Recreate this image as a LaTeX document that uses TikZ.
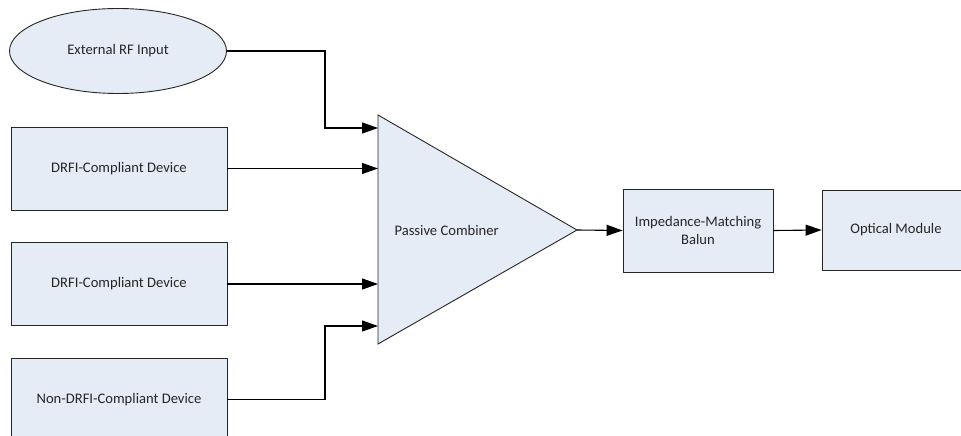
\documentclass[tikz,border=0pt]{standalone}
\usepackage{fontspec}
\setmainfont{Carlito}
\usetikzlibrary{shapes.geometric,arrows.meta}

\begin{document}
\begin{tikzpicture}[x=1pt,y=-1pt,
        blockFill/.style={fill=boxBlue,draw=black!85,line width=0.9pt},
        devBox/.style={blockFill,rectangle,minimum width=216pt,minimum height=83pt,inner sep=0pt},
        arr/.style={draw=black,line width=1.1pt,-{Triangle[length=16pt,width=11pt]}},
        font=\fontsize{14.6}{17.5}\selectfont,text=black!85]
            \definecolor{boxBlue}{RGB}{230,236,246}
            \useasboundingbox (0,0) rectangle (961,436);
            \clip (0,0) rectangle (961,436);

            \node[ellipse,blockFill,minimum width=217pt,minimum height=85pt,inner sep=0pt] (rfIn) at (118,51) {External RF Input};
            \node[devBox] (devOne) at (119,168.5) {DRFI-Compliant Device};
            \node[devBox] (devTwo) at (119,284) {DRFI-Compliant Device};
            \node[devBox] (devThree) at (119,399.5) {Non-DRFI-Compliant Device};

            \draw[blockFill] (378,115) -- (577,230) -- (378,344) -- cycle;
            \coordinate (combTip) at (577,230);
            \node[anchor=west] (combLabel) at (391,230) {Passive Combiner};
            \foreach \yIn/\cName in {128/cinA,168.5/cinB,284/cinC,326/cinD}
                {   \coordinate (\cName) at (378,\yIn);
                }

            \node[blockFill,minimum width=150pt,minimum height=83pt,inner sep=0pt,align=center] (balun) at (698,230.5) {Impedance-Matching\\Balun};
            \node[blockFill,minimum width=148pt,minimum height=80pt,inner sep=0pt] (optMod) at (896,230) {Optical Module};

            \draw[arr] (rfIn.east) -| ([xshift=-53pt]cinA) -- (cinA);
            \draw[arr] (devOne.east) -- (cinB);
            \draw[arr] (devTwo.east) -- (cinC);
            \draw[arr] (devThree.east) -| ([xshift=-53pt]cinD) -- (cinD);
            \draw[arr] (combTip) -- (balun.west);
            \draw[arr] (balun.east) -- (optMod.west);
        \end{tikzpicture}
\end{document}
